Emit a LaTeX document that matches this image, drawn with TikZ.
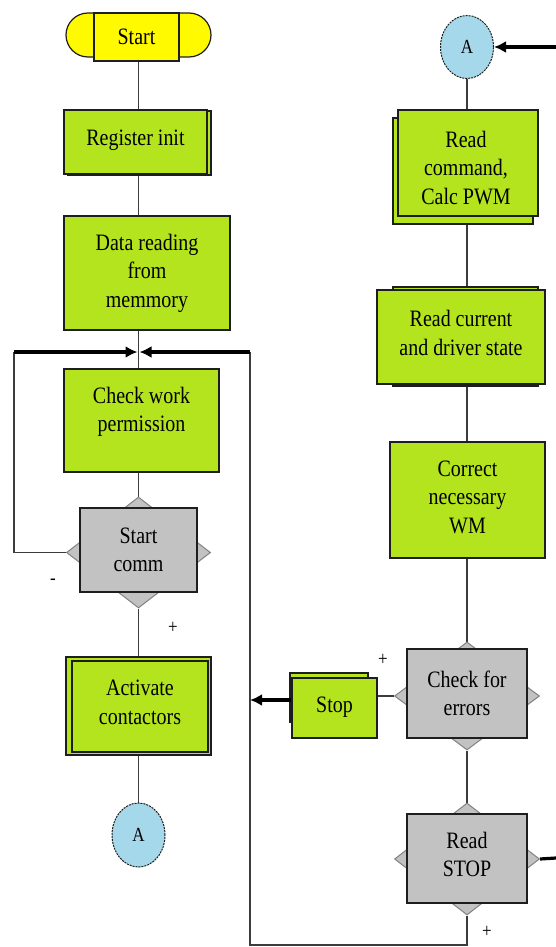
\documentclass[tikz,border=0pt]{standalone}
\usepackage{fontspec}
\newfontfamily\flowfont{Liberation Serif}[FakeStretch=0.85]
\usetikzlibrary{arrows.meta,shapes.geometric,shapes.misc,backgrounds}
\definecolor{leaf}{RGB}{180,228,30}
\definecolor{sun}{RGB}{255,250,0}
\definecolor{stone}{RGB}{194,194,194}
\definecolor{stoneedge}{RGB}{130,130,130}
\definecolor{sky}{RGB}{164,216,234}
\definecolor{boxline}{RGB}{30,30,30}
\definecolor{linkgray}{RGB}{60,60,60}
\begin{document}
\begin{tikzpicture}[x=1pt,y=-1pt,
  font=\flowfont\fontsize{23.5}{28.5}\selectfont,
  box/.style={draw=boxline, line width=1.2pt, fill=leaf, align=center, inner sep=0pt},
  backbox/.style={draw=boxline, line width=1.2pt, fill=leaf, inner sep=0pt},
  caption/.style={align=center, inner sep=0pt},
  query/.style={draw=boxline, line width=1.2pt, fill=stone, align=center, inner sep=0pt},
  querytip/.style={diamond, draw=stoneedge, line width=1pt, fill=stone, inner sep=0pt},
  joint/.style={ellipse, draw=boxline, dash pattern=on 2pt off 1pt, line width=1pt, fill=sky, inner sep=0pt, font=\flowfont\fontsize{20}{24}\selectfont},
  link/.style={draw=linkgray, line width=1.8pt},
  flow/.style={draw=black, line width=3.2pt, -{Latex[length=12pt,width=12pt]}},
  thickline/.style={draw=black, line width=3.2pt},
  signmark/.style={font=\flowfont\fontsize{20}{24}\selectfont, inner sep=0pt}]
\useasboundingbox (0,0) rectangle (556,947);

% ---- left column ----
\node[rounded rectangle, draw=boxline, line width=1.2pt, fill=sun, minimum width=145pt, minimum height=44pt, inner sep=0pt] (startcap) at (138.5,35) {};
\node[draw=boxline, line width=1.2pt, fill=sun, minimum width=85pt, minimum height=48pt, inner sep=0pt] (start) at (136.5,37) {Start};

\node[backbox, minimum width=143pt, minimum height=64pt] (regback) at (139.5,143) {};
\node[box, minimum width=143pt, minimum height=64pt] (reg) at (135.5,142) {Register init\\[-20pt]};

\node[box, minimum width=166pt, minimum height=114pt] (data) at (147,273) {Data reading\\from\\memmory};

\node[box, minimum width=155pt, minimum height=103pt] (check) at (141.5,420.5) {Check work\\permission\\[-6pt]};

\node[querytip, minimum width=144pt, minimum height=111pt] (tip1) at (138.5,552.5) {};
\node[query, minimum width=117pt, minimum height=84pt] (comm) at (138.5,550) {Start\\comm};

\node[backbox, minimum width=145pt, minimum height=98pt] (actback) at (138.5,706) {};
\node[box, minimum width=136pt, minimum height=91pt] (act) at (140,706.5) {Activate\\contactors\\[-20pt]};

\node[joint, minimum width=53pt, minimum height=64pt] (jA) at (138.5,835) {A};

% ---- right column ----
\node[joint, minimum width=53pt, minimum height=63pt] (jB) at (467,47) {A};

\node[backbox, minimum width=140pt, minimum height=106pt] (cmdback) at (463,171) {};
\node[backbox, minimum width=140pt, minimum height=106pt] (cmdfront) at (468,163) {};
\node[caption] (cmd) at (466,168) {Read\\command,\\Calc PWM};

\node[backbox, minimum width=145pt, minimum height=99pt] (curback) at (465.5,336.5) {};
\node[box, minimum width=168pt, minimum height=94pt] (cur) at (461,337) {Read current\\and driver state\\[-20pt]};

\node[box, minimum width=155pt, minimum height=116pt] (corr) at (467.5,500) {Correct\\necessary\\WM\\[-22pt]};

\node[querytip, minimum width=145pt, minimum height=108pt] (tip2) at (467,696) {};
\node[query, minimum width=120pt, minimum height=89pt] (err) at (467,693.5) {Check for\\errors};

\node[backbox, minimum width=78pt, minimum height=49pt] (stopback) at (329,697.5) {};
\node[box, minimum width=85pt, minimum height=60pt] (stop) at (334.5,708) {Stop\\[-22pt]};

\node[querytip, minimum width=145pt, minimum height=112pt] (tip3) at (467,859) {};
\node[query, minimum width=120pt, minimum height=89pt] (rstop) at (467,858.5) {Read\\STOP\\[-20pt]};

% ---- branch marks ----
\node[signmark] (mminus) at (53,582) {-};
\node[signmark] (mplus1) at (173,628) {+};
\node[signmark] (mplus2) at (383,660) {+};
\node[signmark] (mplus3) at (487,932) {+};

% ---- routing points ----
\coordinate (merge) at (138.5,352);
\coordinate (lcorner) at (14,352);
\coordinate (lbottom) at (14,552.5);
\coordinate (rcorner) at (250,352);
\coordinate (bcornerR) at (467,945);
\coordinate (bcornerL) at (250,945);
\coordinate (stopjoin) at (250,700);
\coordinate (inB) at (556,47);
\coordinate (outR) at (556,858);

% ---- connectors, under the shapes ----
\begin{scope}[on background layer]
  \fill[white] (0,0) rectangle (556,947);
  \draw[link] (startcap.south) -- (startcap.south |- reg.north);
  \draw[link] (startcap.south |- reg.south) -- (startcap.south |- data.north);
  \draw[link] (startcap.south |- data.south) -- (startcap.south |- check.north);
  \draw[link] (tip1.north |- check.south) -- (tip1.north);
  \draw[link] (tip1.south) -- (tip1.south |- actback.north);
  \draw[link] (jA.north |- actback.south) -- (jA.north);
  \draw[link] (tip1.west) -- (lbottom) -- (lcorner);
  \draw[flow] (lcorner) -- ([xshift=-1pt]merge);
  \draw[link] (jB.south) -- (jB.south |- cmdfront.north);
  \draw[link] (jB |- cmdback.south) -- (jB |- cur.north);
  \draw[link] (jB |- cur.south) -- (jB |- corr.north);
  \draw[link] (jB |- corr.south) -- (tip2.north);
  \draw[link] (tip2.south) -- (tip3.north);
  \draw[link] (tip2.west) -- (stop.east |- tip2.west);
  \draw[link] (tip3.south) -- (bcornerR) -- (bcornerL) -- (rcorner);
  \draw[flow] (rcorner) -- ([xshift=1pt]merge);
\end{scope}
\draw[flow] (stop.west |- stopjoin) -- (stopjoin);
\draw[flow] (inB) -- (jB.east);
\draw[thickline] (tip3.east) -- (outR);
\end{tikzpicture}
\end{document}
